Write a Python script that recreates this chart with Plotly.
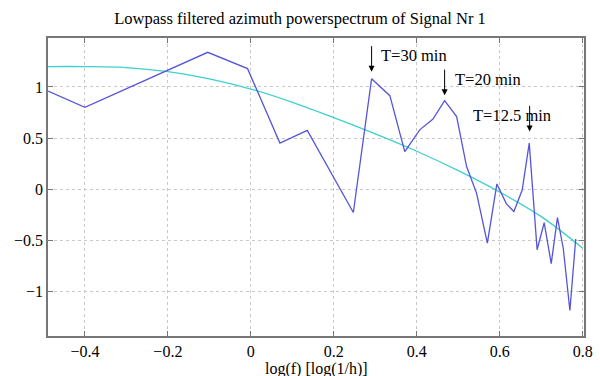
import plotly.graph_objects as go

# Blue: lowpass filtered spectrum
spec_x = [-0.489, -0.40, -0.104, -0.008, 0.070, 0.136, 0.247, 0.291, 0.335, 0.371,
          0.407, 0.439, 0.467, 0.496, 0.520, 0.544, 0.570, 0.593, 0.616, 0.634,
          0.654, 0.671, 0.690, 0.707, 0.724, 0.739, 0.753, 0.769, 0.783]
spec_y = [0.96, 0.80, 1.34, 1.18, 0.45, 0.575, -0.23, 1.08, 0.915, 0.366,
          0.58, 0.686, 0.866, 0.71, 0.22, -0.04, -0.53, 0.05, -0.145, -0.22,
          -0.01, 0.45, -0.595, -0.33, -0.73, -0.28, -0.58, -1.19, -0.49]

# Cyan: smooth trend
trend_x = [-0.49, -0.4, -0.3, -0.2, -0.1, 0.0, 0.1, 0.2, 0.3, 0.4, 0.5, 0.6, 0.7, 0.8]
trend_y = [1.20, 1.20, 1.19, 1.15, 1.08, 0.98, 0.85, 0.70, 0.54, 0.37, 0.18, -0.03, -0.27, -0.58]

x_ticks = [-0.4, -0.2, 0, 0.2, 0.4, 0.6, 0.8]
x_tick_labels = ["\u22120.4", "\u22120.2", "0", "0.2", "0.4", "0.6", "0.8"]
y_ticks = [-1, -0.5, 0, 0.5, 1]
y_tick_labels = ["\u22121", "\u22120.5", "0", "0.5", "1"]

# annotations: (arrow x, arrow y, label, label x, label y)
marks = [
    (0.291, 1.15, "T=30 min", 0.308, 1.305),
    (0.467, 0.92, "T=20 min", 0.487, 1.075),
    (0.672, 0.565, "T=12.5 min", 0.530, 0.725),
]

FONT = "Liberation Serif"

fig = go.Figure()
fig.add_trace(go.Scatter(x=trend_x, y=trend_y, mode="lines", line_shape="spline",
                         line=dict(color="#3ecfd0", width=1.3), showlegend=False))
fig.add_trace(go.Scatter(x=spec_x, y=spec_y, mode="lines",
                         line=dict(color="#5555d8", width=1.3), showlegend=False))

anns = []
for ax_, ay_, lab, lx, ly in marks:
    anns.append(dict(x=ax_, y=ay_, xref="x", yref="y", text="", showarrow=True,
                     ax=0, ay=-27, axref="pixel", ayref="pixel",
                     arrowhead=2, arrowsize=1.2, arrowwidth=1, arrowcolor="black"))
    anns.append(dict(x=lx, y=ly, xref="x", yref="y", text=lab, showarrow=False,
                     xanchor="left", yanchor="middle",
                     font=dict(family=FONT, size=16.5, color="black")))

# axis title
anns.append(dict(x=0.5, y=0, xref="paper", yref="paper", yshift=-22,
                 text="log(f) [log(1/h)]", showarrow=False,
                 xanchor="center", yanchor="top",
                 font=dict(family=FONT, size=16, color="black")))

fig.update_layout(
    width=600, height=376,
    margin=dict(l=48, r=16, t=38, b=40, autoexpand=False),
    paper_bgcolor="white", plot_bgcolor="white",
    title=dict(text="Lowpass filtered azimuth powerspectrum of Signal Nr 1",
               x=0.5, xanchor="center", y=0.952, yanchor="middle",
               font=dict(family=FONT, size=16.5, color="black")),
    annotations=anns,
)
fig.update_xaxes(range=[-0.489, 0.803], tickvals=x_ticks, ticktext=x_tick_labels,
                 showgrid=True, gridcolor="#c8c8c8", griddash="dot", gridwidth=1,
                 showline=True, linecolor="#777777", linewidth=1.5, mirror="ticks",
                 ticks="inside", ticklen=5, tickcolor="#777777",
                 zeroline=False, automargin=False,
                 tickfont=dict(family=FONT, size=16, color="black"))
fig.update_yaxes(range=[-1.44, 1.48], tickvals=y_ticks, ticktext=y_tick_labels,
                 showgrid=True, gridcolor="#c8c8c8", griddash="dot", gridwidth=1,
                 showline=True, linecolor="#777777", linewidth=1.5, mirror="ticks",
                 ticks="inside", ticklen=5, tickcolor="#777777",
                 zeroline=False, automargin=False,
                 tickfont=dict(family=FONT, size=16, color="black"))

fig.write_html("out.html")
